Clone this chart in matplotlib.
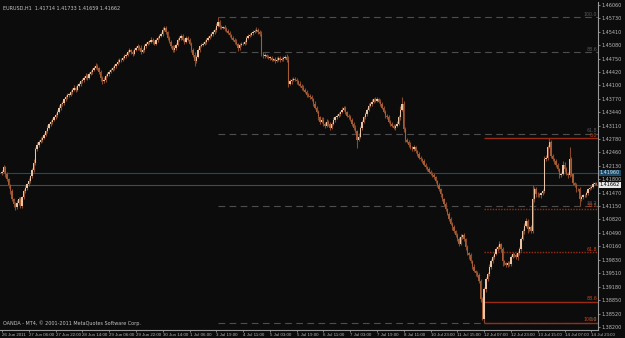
import numpy as np
import matplotlib.pyplot as plt

# EURUSD H1 closes, in pips above 1.3800
close_pips = [
    399, 409, 392, 380, 365, 351, 331, 319,
    312, 321, 331, 316, 336, 351, 360, 368,
    377, 387, 402, 421, 453, 465, 472, 477,
    482, 489, 497, 506, 514, 521, 526, 531,
    538, 545, 555, 563, 567, 575, 580, 587,
    587, 594, 599, 604, 599, 609, 614, 619,
    623, 628, 633, 628, 638, 643, 648, 652,
    657, 652, 643, 628, 619, 623, 633, 638,
    643, 648, 652, 657, 662, 667, 672, 672,
    677, 681, 684, 691, 696, 691, 686, 696,
    701, 706, 701, 691, 696, 706, 711, 716,
    716, 721, 716, 711, 721, 726, 730, 735,
    745, 750, 740, 726, 716, 706, 696, 701,
    709, 721, 726, 730, 721, 716, 726, 721,
    711, 696, 684, 669, 679, 696, 706, 709,
    711, 716, 721, 726, 730, 735, 740, 745,
    755, 764, 752, 750, 752, 747, 743, 738,
    733, 726, 721, 716, 711, 701, 709, 711,
    711, 716, 726, 730, 733, 738, 740, 743,
    745, 740, 735, 686, 681, 684, 679, 677,
    677, 672, 674, 669, 672, 677, 672, 674,
    677, 679, 672, 614, 619, 623, 626, 623,
    619, 614, 609, 604, 599, 594, 587, 584,
    580, 575, 565, 555, 545, 531, 521, 526,
    516, 511, 521, 514, 506, 516, 526, 531,
    535, 540, 545, 550, 555, 545, 535, 531,
    526, 516, 506, 497, 477, 484, 506, 521,
    531, 540, 550, 560, 565, 570, 575, 572,
    575, 570, 565, 555, 545, 535, 531, 521,
    516, 511, 506, 511, 516, 531, 550, 565,
    502, 477, 472, 465, 458, 453, 458, 448,
    441, 433, 429, 424, 416, 409, 404, 399,
    394, 390, 385, 375, 365, 356, 343, 331,
    319, 307, 295, 282, 272, 263, 253, 243,
    234, 222, 239, 243, 234, 214, 199, 194,
    180, 166, 156, 151, 146, 131, 88, 40,
    112, 136, 149, 166, 180, 190, 197, 209,
    214, 221, 209, 180, 175, 170, 175, 173,
    190, 197, 195, 190, 200, 209, 234, 253,
    267, 277, 258, 263, 253, 331, 356, 343,
    343, 341, 346, 351, 429, 433, 460, 470,
    438, 429, 424, 414, 404, 390, 394, 416,
    404, 394, 390, 429, 392, 370, 365, 356,
    356, 331, 336, 341, 341, 346, 356, 360,
    362, 368, 371.4, 366.2,
]
first_open = 395

# wick lengths above / below the body, in pips
hi_ext = [float(s) for s in """
4 6 3 5 4 3 5 4  6 8 5 7 4 6 5 3  5 4 6 8 6 5 4 6  4 5 3 6 4 5 4 3
5 4 6 3 5 4 6 4  3 5 4 6 3 5 4 3  5 4 6 3 4 5 3 4  6 4 3 5 4 6 3 5
4 3 5 4 3 6 4 5  3 5 4 6 4 3 5 4  5 4 3 6 4 5 4 3  4 6 3 5 4 3 5 6
8 5 4 3 5 4 3 6  4 5 3 4 6 3 5 4  3 5 4 6 4 5 3 4  5 4 3 5 4 6 4 5
6 12 5 4 3 5 4 3  4 3 5 4 6 3 5 4  5 4 3 5 4 3 5 4  6 5 4 8 5 4 3 5
4 5 3 4 6 3 5 4  5 4 6 10 5 4 3 5  4 3 5 4 6 3 4 5  4 5 3 6 4 5 4 6
5 4 6 3 5 4 6 4  4 5 3 6 4 5 3 4  5 4 3 6 4 8 5 4  3 5 4 6 4 5 3 5
6 4 5 3 4 5 4 6  4 5 3 4 6 5 8 15  6 5 4 3 5 4 6 3  4 5 3 4 5 3 4 5
3 4 5 3 4 5 4 3  4 5 3 4 6 3 5 4  6 5 8 4 5 3 6 4  5 4 6 3 4 5 6 4
6 5 4 8 5 4 6 5  6 8 4 5 3 4 6 5  4 5 3 4 6 5 6 5  6 8 5 4 5 36 6 5
5 4 3 6 8 6 5 10  6 5 4 5 6 4 5 8  6 5 4 29 5 4 3 5  4 6 5 4 3 5 4 3
4 5 2 1.9
""".split()]
lo_ext = [float(s) for s in """
5 4 6 3 5 6 4 7  8 5 4 6 5 3 4 5  4 5 3 4 6 4 5 3  5 3 4 5 3 4 6 4
3 5 4 6 3 5 4 5  6 4 5 3 5 4 3 5  4 5 3 6 4 3 5 4  3 6 5 8 6 4 5 3
5 4 3 5 6 3 4 5  4 3 5 4 3 6 4 3  3 5 4 6 3 4 5 4  5 3 6 4 3 5 4 3
4 3 5 6 4 5 6 4  5 4 3 6 4 5 3 4  4 6 5 12 4 3 5 4  3 4 5 3 4 3 5 4
4 3 5 4 3 5 4 3  5 4 3 6 4 8 4 3  4 3 5 4 3 4 5 3  3 4 5 6 5 4 3 4
5 3 4 5 3 4 5 3  4 3 5 8 4 5 3 4  5 4 3 5 4 3 6 4  3 4 5 3 4 6 5 3
6 5 4 3 6 4 3 5  3 4 5 3 4 5 4 3  4 5 6 5 20 4 3 5  4 3 5 4 3 5 4 3
3 4 5 3 4 5 3 4  5 3 4 5 3 4 5 4  6 5 4 5 3 4 5 3  4 3 5 4 3 5 3 4
3 4 5 3 4 5 6 4  5 4 3 5 4 6 4 5  4 6 3 5 4 6 5 8  5 4 3 6 4 5 8 4
10 6 5 4 6 5 4 3  4 5 6 12 5 4 3 5  4 3 5 4 6 5 4 3  6 4 8 5 4 3 6 5
5 4 6 5 4 5 6 4  5 4 6 5 4 6 5 4  5 4 6 5 4 5 4 6  4 17 5 4 3 5 4 3
4 3 3 0.3
""".split()]

y_ticks = ["1.46060", "1.45730", "1.45410", "1.45080", "1.44750", "1.44420",
           "1.44100", "1.43770", "1.43440", "1.43110", "1.42780", "1.42460",
           "1.42130", "1.41800", "1.41470", "1.41150", "1.40820", "1.40490",
           "1.40160", "1.39830", "1.39510", "1.39180", "1.38850", "1.38520",
           "1.38200"]
x_labels = ["26 Jun 2011", "27 Jun 06:00", "27 Jun 22:00", "28 Jun 14:00",
            "29 Jun 06:00", "29 Jun 22:00", "30 Jun 14:00", "1 Jul 06:00",
            "3 Jul 19:00", "4 Jul 11:00", "5 Jul 03:00", "5 Jul 19:00",
            "6 Jul 11:00", "7 Jul 03:00", "7 Jul 19:00", "8 Jul 11:00",
            "10 Jul 23:00", "11 Jul 15:00", "12 Jul 07:00", "12 Jul 23:00",
            "13 Jul 15:00", "14 Jul 07:00", "14 Jul 23:00"]
fib_levels = [0.0, 38.2, 61.8, 88.6, 100.0]
hline_price = 1.41960

# build OHLC
c = 1.38 + np.array(close_pips) / 10000.0
o = np.concatenate([[1.38 + first_open / 10000.0], c[:-1]])
h = np.maximum(o, c) + np.array(hi_ext) / 10000.0
l = np.minimum(o, c) - np.array(lo_ext) / 10000.0
n = len(c)
x = np.arange(n)

bg = '#0c0c0c'
fs = 3.5
fig = plt.figure(figsize=(6.25, 3.38), dpi=100, facecolor=bg)
ax = fig.add_axes([0.0, 0.0237, 0.9568, 0.9703], facecolor=bg)

# fibonacci objects: grey one from the top to the low, red one from the low to the bounce high
i_top = int(np.argmax(h))
i_low = int(np.argmin(l))
i_bounce = i_low + int(np.argmax(h[i_low:]))
top, low, bounce = h[i_top], l[i_low], h[i_bounce]
xmax = n + 0.5

for lev in fib_levels:
    p = low + (top - low) * lev / 100.0
    ax.hlines(p, i_top, xmax, colors='#4e4e4e', lw=0.8, linestyles=(0, (6, 4)), zorder=1)
    ax.text(xmax - 1, p + 0.0001, '%.1f' % lev, color='#5a5a5a', fontsize=3.4,
            ha='right', va='bottom', zorder=2)
for lev in fib_levels:
    p = bounce - (bounce - low) * lev / 100.0
    ls = (0, (1, 1)) if lev in (38.2, 61.8) else '-'
    ax.hlines(p, i_low, xmax, colors='#9a2c12', lw=1.0, linestyles=ls, zorder=3)
    ax.text(xmax - 1, p + 0.0001, '%.1f' % lev, color='#d04418', fontsize=3.4,
            ha='right', va='bottom', zorder=4)

# horizontal line + bid line
ax.axhline(hline_price, color='#1d4a66', lw=0.8, zorder=1)
ax.axhline(c[-1], color='#454b52', lw=0.8, zorder=1)

# candles
up = c >= o
body_col = np.where(up, '#e9c4a6', '#a45c36')
ax.vlines(x, l, h, colors='#86492a', lw=0.8, zorder=5)
body_h = np.where(np.abs(c - o) < 0.00006, 0.00006, c - o)
ax.bar(x, body_h, bottom=o, width=0.8, color=body_col, edgecolor='none', zorder=6)

ax.set_xlim(-1.2, 356)
ax.set_ylim(1.3812, 1.4613)

ax.yaxis.tick_right()
ax.set_yticks([float(t) for t in y_ticks])
ax.set_yticklabels(y_ticks)
ax.set_xticks(np.arange(len(x_labels)) * 16)
ax.set_xticklabels(x_labels)
for t in ax.get_xticklabels():
    t.set_ha('left')
    t.set_family('Liberation Sans')
    t.set_fontsize(3.2)
ax.tick_params(axis='both', colors='#9a9a9a', labelcolor='#b8b8b8',
               labelsize=fs, length=1.5, width=0.6, pad=0.8)
for t in ax.get_xticklabels():
    t.set_fontsize(3.2)

for side in ['top', 'left']:
    ax.spines[side].set_visible(False)
for side in ['right', 'bottom']:
    ax.spines[side].set_color('#9a9a9a')
    ax.spines[side].set_linewidth(0.8)

# price boxes on the axis
ax.text(1.003, hline_price, '%.5f' % hline_price, transform=ax.get_yaxis_transform(),
        fontsize=fs, color='#cfe6f0', va='center', ha='left',
        bbox=dict(boxstyle='square,pad=0.15', fc='#1d4a66', ec='none'), zorder=10)
ax.text(1.003, c[-1], '%.5f' % c[-1], transform=ax.get_yaxis_transform(),
        fontsize=fs, color='#000000', va='center', ha='left',
        bbox=dict(boxstyle='square,pad=0.15', fc='#e6e6e6', ec='none'), zorder=10)

ax.text(0.005, 0.988, 'EURUSD,H1  %.5f %.5f %.5f %.5f' % (o[-1], h[-1], l[-1], c[-1]),
        transform=ax.transAxes, color='#c4c4c4', fontsize=fs, ha='left', va='top')
ax.text(0.005, 0.012, 'OANDA - MT4, \u00a9 2001-2011 MetaQuotes Software Corp.',
        transform=ax.transAxes, color='#c4c4c4', fontsize=fs, ha='left', va='bottom')

fig.savefig('out.png', dpi=100, facecolor=bg)
